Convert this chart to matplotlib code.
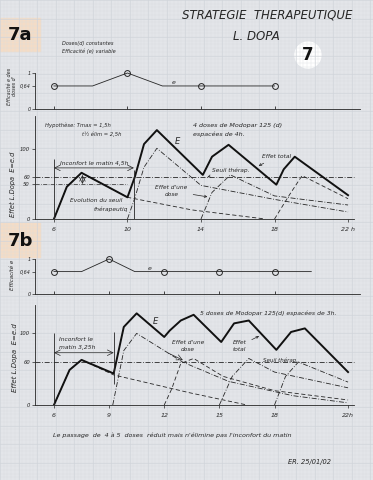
import numpy as np
import matplotlib
matplotlib.use("Agg")
import matplotlib.pyplot as plt
from matplotlib.patches import Rectangle, Circle

W, H = 373, 480
X0, X1 = 4.97, 22.65  # heures aux bords des axes

# ---- 7a : 4 doses de Modopar espacees de 4 h
doses_a = [6, 10, 14, 18]
eff_a = [0.64, 1, 0.64, 0.64]
eff_line_a_h = [6, 8.1, 10, 11.9, 18]
eff_line_a_v = [0.64, 0.64, 1, 0.64, 0.64]

total_a_h = [6, 6.7, 7.5, 10, 10.4, 10.9, 11.6, 14.1, 14.6, 15.5, 18.1, 18.5, 19.1, 22]
total_a_v = [0, 46, 66, 31, 60, 107, 127, 63, 89, 106, 49, 71, 89, 34]

dose1_a_h = [6, 6.7, 7.5, 10, 13.5, 17.5]
dose1_a_v = [0, 46, 66, 31, 13, 0]
dose2_a_h = [10, 10.4, 10.9, 11.6, 14, 18, 22]
dose2_a_v = [0, 30, 74, 101, 48, 28, 10]
dose3_a_h = [14, 14.6, 15.6, 18, 22]
dose3_a_v = [0, 38, 63, 33, 20]
dose4_a_h = [18, 18.8, 19.5, 22]
dose4_a_v = [0, 34, 62, 29]

xticks_a = [6, 10, 14, 18, 22]
xlabels_a = ["6", "10", "14", "18", "22 h"]

# ---- 7b : 5 doses espacees de 3 h
doses_b = [6, 9, 12, 15, 18]
eff_b = [0.64, 1, 0.64, 0.64, 0.64]
eff_line_b_h = [6, 7.5, 9, 10.4, 20]
eff_line_b_v = [0.64, 0.64, 1, 0.64, 0.64]

total_b_h = [6, 6.85, 7.5, 9.25, 9.8, 10.5, 12, 12.3, 12.9, 13.6, 15.1, 15.8, 16.6, 18.1, 18.9, 19.65, 22]
total_b_v = [0, 49, 63, 44, 109, 128, 95, 104, 118, 126, 88, 114, 118, 77, 102, 107, 46]

dose1_b_h = [6, 6.85, 7.5, 9.25, 13.4, 16.5]
dose1_b_v = [0, 49, 63, 42, 17, 0]
dose2_b_h = [9.2, 9.8, 10.5, 13, 15.5, 19, 22]
dose2_b_v = [0, 76, 100, 60, 33, 13, 3]
dose3_b_h = [12, 12.4, 12.9, 13.6, 15.2, 18, 22]
dose3_b_v = [0, 22, 58, 65, 40, 20, 7]
dose4_b_h = [15, 15.7, 16.6, 18, 22]
dose4_b_v = [0, 40, 65, 46, 24]
dose5_b_h = [18, 18.6, 19.3, 22]
dose5_b_v = [0, 40, 60, 32]

xticks_b = [6, 9, 12, 15, 18, 22]
xlabels_b = ["6", "9", "12", "15", "18", "22h"]

ink = "#262626"
dashdot = (0, (6, 2, 1, 2))
dashed = (0, (5, 3))

plt.rcParams["font.family"] = ["DejaVu Sans"]
plt.rcParams["font.style"] = "italic"


def rect(x0, y0, x1, y1):
    return [x0 / W, 1 - y1 / H, (x1 - x0) / W, (y1 - y0) / H]


def eff_panel(ax, doses, eff, lh, lv, ytop, epos):
    ax.patch.set_visible(False)
    ax.set_xlim(X0, X1)
    ax.set_ylim(0, ytop)
    ax.plot(lh, lv, color=ink, lw=0.6)
    ax.plot(doses, eff, "o", ms=4.2, mfc="none", mec=ink, mew=0.7)
    ax.text(epos[0], epos[1], "e", fontsize=4.5, color=ink)
    for s in ["top", "right"]:
        ax.spines[s].set_visible(False)
    ax.spines["left"].set_bounds(0, 1)
    for s in ["left", "bottom"]:
        ax.spines[s].set_linewidth(0.6)
        ax.spines[s].set_color(ink)
    ax.set_xticks(doses, [""] * len(doses))
    ax.set_yticks([0, 0.64, 1], ["0", "0,64", "1"])
    ax.tick_params(axis="x", direction="in", length=2, width=0.6, colors=ink)
    ax.tick_params(axis="y", length=2, width=0.5, labelsize=3.5, pad=1, colors=ink)


def main_panel(ax, ytop, xt, xl, yt, yl):
    ax.patch.set_visible(False)
    ax.set_xlim(X0, X1)
    ax.set_ylim(0, ytop)
    for s in ["top", "right"]:
        ax.spines[s].set_visible(False)
    ax.spines["bottom"].set_bounds(X0, 22.3)
    for s in ["left", "bottom"]:
        ax.spines[s].set_linewidth(0.6)
        ax.spines[s].set_color(ink)
    ax.set_xticks(xt, xl)
    ax.set_yticks(yt, yl)
    ax.tick_params(axis="x", length=2, width=0.5, labelsize=4.5, pad=4, colors=ink)
    ax.tick_params(axis="y", length=2, width=0.5, labelsize=3.8, pad=1.5, colors=ink)


fig = plt.figure(figsize=(W / 100, H / 100), dpi=100)
fig.patch.set_facecolor("#e3e5e9")

# papier millimetre
bg = fig.add_axes([0, 0, 1, 1])
bg.set_xlim(0, W)
bg.set_ylim(H, 0)
bg.axis("off")
for x in np.arange(0, W, 3.7):
    bg.axvline(x, color="#d9dce1", lw=0.25)
for y in np.arange(0, H, 3.7):
    bg.axhline(y, color="#d9dce1", lw=0.25)
for x in np.arange(0, W, 18.5):
    bg.axvline(x, color="#cfd3d9", lw=0.4)
for y in np.arange(0, H, 18.5):
    bg.axhline(y, color="#cfd3d9", lw=0.4)
bg.add_patch(Rectangle((0, 18), 40, 33, color="#f4dcc6"))
bg.add_patch(Rectangle((0, 223), 40, 34, color="#f4dcc6"))
bg.add_patch(Circle((308, 55), 13, color="white"))
bg.text(20, 35, "7a", fontsize=13, fontweight="bold", style="normal", ha="center", va="center", color="#111")
bg.text(20, 241, "7b", fontsize=13, fontweight="bold", style="normal", ha="center", va="center", color="#111")
bg.text(308, 55, "7", fontsize=12, fontweight="bold", style="normal", ha="center", va="center", color="#111")

fig.text(267 / W, 1 - 15 / H, "STRATEGIE  THERAPEUTIQUE", fontsize=8.5, ha="center", va="center", color=ink)
fig.text(256 / W, 1 - 36 / H, "L. DOPA", fontsize=8.5, ha="center", va="center", color=ink)
fig.text(62 / W, 1 - 43 / H, "Doses(d) constantes", fontsize=3.6, va="center", color=ink)
fig.text(62 / W, 1 - 51 / H, "Efficacité (e) variable", fontsize=3.6, va="center", color=ink)

# ---- 7a efficacite
ax1 = fig.add_axes(rect(35, 65, 360, 109))
eff_panel(ax1, doses_a, eff_a, eff_line_a_h, eff_line_a_v, 44 / 36, (12.4, 0.7))
fig.text(12 / W, 1 - 86 / H, "Efficacité e des\ndoses d'", fontsize=3.5, rotation=90,
         ha="center", va="center", color=ink, linespacing=1.2)

# ---- 7a effet
ax2 = fig.add_axes(rect(35, 116, 360, 219))
main_panel(ax2, 103 / 0.7, xticks_a, xlabels_a, [0, 50, 60, 100], ["0", "50", "60", "100"])
ax2.hlines(60, X0, 22.3, color=ink, lw=0.6, linestyle=dashdot)
ax2.hlines(50, X0, 10, color=ink, lw=0.5, linestyle=dashdot)
ax2.plot(dose1_a_h, dose1_a_v, color=ink, lw=0.6, linestyle=dashed)
ax2.plot(dose2_a_h, dose2_a_v, color=ink, lw=0.6, linestyle=dashdot)
ax2.plot(dose3_a_h, dose3_a_v, color=ink, lw=0.6, linestyle=dashdot)
ax2.plot(dose4_a_h, dose4_a_v, color=ink, lw=0.6, linestyle=dashed)
ax2.plot(total_a_h, total_a_v, color="#111", lw=1.4)
ax2.vlines(6, 0, 86, color=ink, lw=0.6)
ax2.vlines(10.35, 0, 70, color=ink, lw=0.6)
ax2.annotate("", xy=(10.35, 73), xytext=(6, 73),
             arrowprops=dict(arrowstyle="<->", lw=0.5, color=ink, shrinkA=0, shrinkB=0))
ax2.text(8.2, 79, "Inconfort le matin 4,5h", fontsize=4.3, ha="center", va="center", color=ink)
ax2.annotate("", xy=(7.55, 50), xytext=(7.55, 63),
             arrowprops=dict(arrowstyle="<->", lw=0.5, color=ink, shrinkA=0, shrinkB=0))
ax2.text(8.3, 27, "Evolution du seuil", fontsize=4.2, ha="center", va="center", color=ink)
ax2.text(9.1, 14, "thérapeutiq", fontsize=4.2, ha="center", va="center", color=ink)
ax2.text(5.5, 134, "Hypothèse: Tmax = 1,5h", fontsize=3.8, va="center", color=ink)
ax2.text(7.5, 121, "t½ élim = 2,5h", fontsize=3.8, va="center", color=ink)
ax2.text(13.56, 134, "4 doses de Modopar 125 (d)", fontsize=4.6, va="center", color=ink)
ax2.text(13.56, 121, "espacées de 4h.", fontsize=4.6, va="center", color=ink)
ax2.text(12.6, 110, "E", fontsize=6, va="center", color=ink)
ax2.annotate("Effet total", xy=(17.0, 74), xytext=(18.1, 89), fontsize=4.2, ha="center", va="center",
             color=ink, arrowprops=dict(arrowstyle="->", lw=0.5, color=ink))
ax2.annotate("Seuil thérap.", xy=(14.35, 60), xytext=(15.6, 70), fontsize=4.2, ha="center", va="center",
             color=ink, arrowprops=dict(arrowstyle="->", lw=0.5, color=ink))
ax2.annotate("Effet d'une\ndose", xy=(14.5, 31), xytext=(12.4, 40), fontsize=4.2, ha="center", va="center",
             color=ink, linespacing=1.5, arrowprops=dict(arrowstyle="->", lw=0.5, color=ink))
fig.text(13 / W, 1 - 184 / H, "Effet L.Dopa  E=e.d", fontsize=4.8, rotation=90,
         ha="center", va="center", color=ink)

# ---- 7b efficacite
ax3 = fig.add_axes(rect(35, 250, 360, 294))
eff_panel(ax3, doses_b, eff_b, eff_line_b_h, eff_line_b_v, 44 / 35, (11.1, 0.7))
fig.text(13 / W, 1 - 275 / H, "Efficacité e", fontsize=4, rotation=90,
         ha="center", va="center", color=ink)

# ---- 7b effet
ax4 = fig.add_axes(rect(35, 305, 360, 405))
main_panel(ax4, 100 / 0.716, xticks_b, xlabels_b, [0, 60, 100], ["0", "60", "100"])
ax4.hlines(60, X0, 22.3, color=ink, lw=0.6, linestyle=dashdot)
ax4.plot(dose1_b_h, dose1_b_v, color=ink, lw=0.6, linestyle=dashed)
ax4.plot(dose2_b_h, dose2_b_v, color=ink, lw=0.6, linestyle=dashdot)
ax4.plot(dose3_b_h, dose3_b_v, color=ink, lw=0.6, linestyle=dashed)
ax4.plot(dose4_b_h, dose4_b_v, color=ink, lw=0.6, linestyle=dashdot)
ax4.plot(dose5_b_h, dose5_b_v, color=ink, lw=0.6, linestyle=dashdot)
ax4.plot(total_b_h, total_b_v, color="#111", lw=1.4)
ax4.vlines(6, 0, 100, color=ink, lw=0.6)
ax4.vlines(9.25, 30, 102, color=ink, lw=0.6)
ax4.annotate("", xy=(9.25, 73), xytext=(6, 73),
             arrowprops=dict(arrowstyle="<->", lw=0.5, color=ink, shrinkA=0, shrinkB=0))
ax4.text(6.3, 91, "Inconfort le", fontsize=4.3, va="center", color=ink)
ax4.text(6.3, 80, "matin 3,25h", fontsize=4.3, va="center", color=ink)
ax4.text(13.97, 128, "5 doses de Modopar 125(d) espacées de 3h.", fontsize=4.4, va="center", color=ink)
ax4.text(11.4, 117, "E", fontsize=6, va="center", color=ink)
ax4.text(13.3, 83, "Effet d'une\ndose", fontsize=4.2, ha="center", va="center", color=ink, linespacing=1.5)
ax4.annotate("", xy=(13.15, 61), xytext=(12.1, 74),
             arrowprops=dict(arrowstyle="->", lw=0.5, color=ink))
ax4.annotate("Effet\ntotal", xy=(17.3, 98), xytext=(16.1, 83), fontsize=4.2, ha="center", va="center",
             color=ink, linespacing=1.5, arrowprops=dict(arrowstyle="->", lw=0.5, color=ink))
ax4.text(18.3, 63, "Seuil thérap.", fontsize=4, ha="center", va="center", color=ink)
fig.text(15 / W, 1 - 358 / H, "Effet L.Dopa  E=e.d", fontsize=5, rotation=90,
         ha="center", va="center", color=ink)

fig.text(53 / W, 1 - 435 / H,
         "Le passage  de  4 à 5  doses  réduit mais n'élimine pas l'inconfort du matin",
         fontsize=4.6, va="center", color=ink)
fig.text(288 / W, 1 - 462 / H, "ER. 25/01/02", fontsize=4.8, va="center", color=ink)

fig.savefig("out.png", dpi=100, facecolor=fig.get_facecolor())
